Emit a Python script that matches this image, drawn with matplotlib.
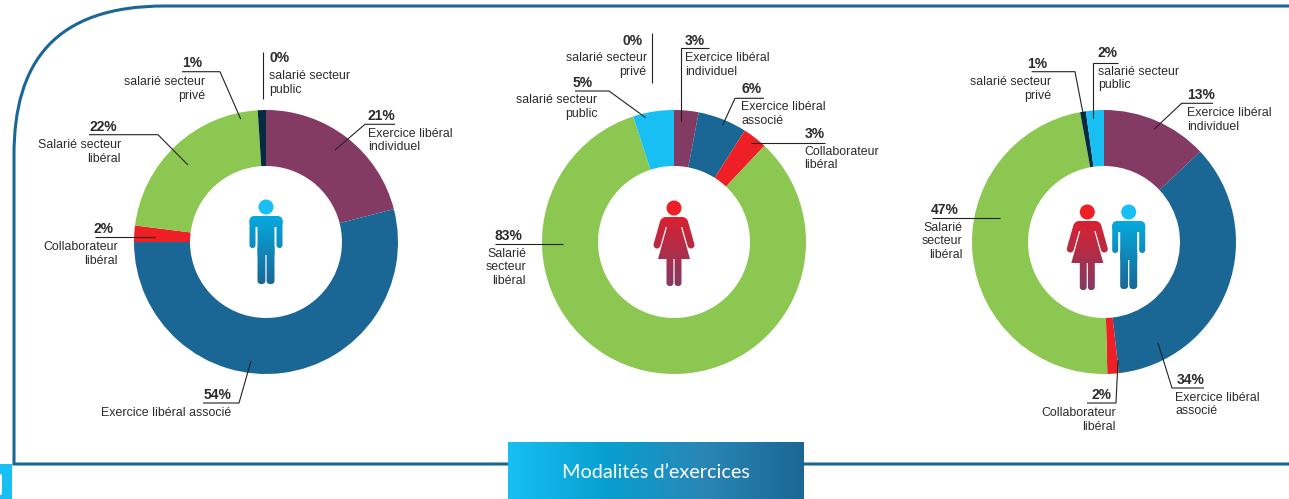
import numpy as np
import matplotlib
matplotlib.use("Agg")
import matplotlib.pyplot as plt
from matplotlib.patches import Circle, FancyBboxPatch, Polygon, Rectangle, PathPatch
from matplotlib.path import Path
from matplotlib.colors import LinearSegmentedColormap

plt.rcParams['font.family'] = ['Liberation Sans', 'DejaVu Sans']

# --- data ---
categories = ["Exercice libéral individuel", "Exercice libéral associé", "Collaborateur libéral",
              "Salarié secteur libéral", "salarié secteur privé", "salarié secteur public"]
values_homme = [21, 54, 2, 22, 1, 0]
values_femme = [3, 6, 3, 83, 0, 5]
# arcs (les pourcentages affichés ne somment qu'à 99)
values_tous = [13, 35.2, 1.4, 47.5, 0.7, 2.2]
labels_homme = ["21%", "54%", "2%", "22%", "1%", "0%"]
labels_femme = ["3%", "6%", "3%", "83%", "0%", "5%"]
labels_tous = ["13%", "34%", "2%", "47%", "1%", "2%"]
title = "Modalités d\u2019exercices"

colors = ["#833A63", "#1A6795", "#EE2025", "#8BC751", "#062A42", "#18BFF3"]
FRAME = "#1A6795"
INK = "#2b2b2b"
LINE = "#222222"

fig = plt.figure(figsize=(12.89, 4.99), dpi=100)
ax = fig.add_axes([0, 0, 1, 1])


def donut(cx, values):
    ax.pie(values, colors=colors, center=(cx, 242), radius=132, startangle=-90,
           counterclock=True, frame=True, wedgeprops=dict(width=56, linewidth=0))


def note(pct, desc, bx, by, tx, ty, ha, pts, step=13.5):
    ax.text(bx, by, pct, fontsize=10, fontweight='bold', color=INK, ha=ha, va='center')
    for i, line in enumerate(desc.split("\n")):
        ax.text(tx, ty + i * step, line, fontsize=8.9, color=INK, ha=ha, va='center')
    ax.plot([p[0] for p in pts], [p[1] for p in pts], color=LINE, lw=0.8,
            solid_joinstyle='miter', solid_capstyle='butt')


def gradient(parts, top, bottom, y0, y1):
    cmap = LinearSegmentedColormap.from_list("g", [top, bottom])
    grad = np.linspace(0, 1, 128).reshape(-1, 1)
    for p in parts:
        p.set(facecolor='none', edgecolor='none', linewidth=0)
        ax.add_patch(p)
        im = ax.imshow(grad, cmap=cmap, extent=(0, 1289, y1, y0), aspect='auto', zorder=3)
        im.set_clip_path(p)


def rrect(x0, y0, x1, y1, r):
    return FancyBboxPatch((x0, y0), x1 - x0, y1 - y0, boxstyle=f"round,pad=0,rounding_size={r}")


def capsule(x0, y0, x1, y1, w):
    ang = np.arctan2(y1 - y0, x1 - x0)
    t = np.linspace(np.pi / 2, 3 * np.pi / 2, 12)
    a = np.column_stack([x0 + w / 2 * np.cos(ang + t), y0 + w / 2 * np.sin(ang + t)])
    b = np.column_stack([x1 + w / 2 * np.cos(ang + t + np.pi), y1 + w / 2 * np.sin(ang + t + np.pi)])
    return Polygon(np.vstack([a, b]), closed=True)


def man(cx, top):
    ax.add_patch(Circle((cx, top + 7), 7.5, color="#18BFF3", lw=0, zorder=3))
    parts = [rrect(cx - 16.5, top + 16, cx + 16.5, top + 27, 5),
             rrect(cx - 16.5, top + 18, cx - 10.5, top + 48, 3),
             rrect(cx + 10.5, top + 18, cx + 16.5, top + 48, 3),
             rrect(cx - 8.5, top + 18, cx + 8.5, top + 55, 1),
             rrect(cx - 8.5, top + 45, cx - 0.6, top + 84, 3.5),
             rrect(cx + 0.6, top + 45, cx + 8.5, top + 84, 3.5)]
    gradient(parts, "#05A9DF", "#1A6795", top + 16, top + 84)


def woman(cx, top):
    ax.add_patch(Circle((cx, top + 7), 7.5, color="#EE2025", lw=0, zorder=3))
    dress = Polygon([(cx - 9, top + 18), (cx + 9, top + 18), (cx + 7, top + 26),
                     (cx + 16, top + 58), (cx - 16, top + 58), (cx - 7, top + 26)],
                    closed=True)
    parts = [rrect(cx - 13, top + 16, cx + 13, top + 26, 5),
             dress,
             capsule(cx - 10.5, top + 21, cx - 17, top + 44, 7),
             capsule(cx + 10.5, top + 21, cx + 17, top + 44, 7),
             rrect(cx - 7.5, top + 50, cx - 0.6, top + 85, 3),
             rrect(cx + 0.6, top + 50, cx + 7.5, top + 85, 3)]
    gradient(parts, "#DA2130", "#833A63", top + 16, top + 85)


# --- cadre ---
frame_path = Path([(1289, 6), (165, 6), (54, 6), (14, 63), (14, 155), (14, 464), (1289, 464)],
                  [Path.MOVETO, Path.LINETO, Path.CURVE4, Path.CURVE4, Path.CURVE4, Path.LINETO, Path.LINETO])
ax.add_patch(PathPatch(frame_path, fill=False, edgecolor=FRAME, lw=2.2, joinstyle='miter'))

# --- donuts ---
donut(266, values_homme)
donut(674, values_femme)
donut(1104, values_tous)

man(266, 200)
woman(674, 201)
woman(1087.3, 205)
man(1128.7, 205)

# --- homme ---
note(labels_homme[0], "Exercice libéral\nindividuel", 368, 116, 368, 134, 'left',
     [(395, 124.3), (365, 124.3), (335, 150)])
note(labels_homme[1], "Exercice libéral associé", 231, 395, 231, 413, 'right',
     [(203, 403), (239, 403), (251, 361)])
note(labels_homme[2], "Collaborateur\nlibéral", 113.5, 229, 118, 247, 'right',
     [(94.7, 237.3), (155, 237.3)])
note(labels_homme[3], "Salarié secteur\nlibéral", 117.5, 127, 121, 145, 'right',
     [(89, 134.7), (158, 134.7), (188, 165)])
note(labels_homme[4], "salarié secteur\nprivé", 202, 63, 205.5, 82, 'right',
     [(182, 71.7), (220, 71.7), (240.7, 119)])
note(labels_homme[5], "salarié secteur\npublic", 269, 58, 269, 76, 'left',
     [(263, 52), (263, 99)])

# --- femme ---
note(labels_femme[0], "Exercice libéral\nindividuel", 685, 40.7, 685, 58, 'left',
     [(709, 48.3), (681, 48.3), (681, 120.7)])
note(labels_femme[1], "Exercice libéral\nassocié", 741, 89, 741, 107, 'left',
     [(764, 98.3), (735, 98.3), (722.7, 125)])
note(labels_femme[2], "Collaborateur\nlibéral", 804.5, 134, 804.5, 152, 'left',
     [(825, 142.7), (751, 142.7)])
note(labels_femme[3], "Salarié\nsecteur\nlibéral", 522, 236, 526, 254, 'right',
     [(495, 244), (563, 244)])
note(labels_femme[4], "salarié secteur\nprivé", 643, 40.7, 646.7, 58, 'right',
     [(652, 33), (652, 83)])
note(labels_femme[5], "salarié secteur\npublic", 593, 82.7, 597.3, 100, 'right',
     [(575, 91), (609, 91), (645.7, 117.7)])

# --- ensemble ---
note(labels_tous[0], "Exercice libéral\nindividuel", 1187, 95, 1187, 113, 'left',
     [(1213, 103.3), (1181.7, 103.3), (1154, 129.3)])
note(labels_tous[1], "Exercice libéral\nassocié", 1177, 380, 1175, 398, 'left',
     [(1204, 388), (1172, 388), (1158, 343)])
note(labels_tous[2], "Collaborateur\nlibéral", 1112, 395, 1116, 413, 'right',
     [(1087, 403), (1116, 403), (1118, 360)])
note(labels_tous[3], "Salarié\nsecteur\nlibéral", 959, 210, 962.7, 228, 'right',
     [(931.7, 218.3), (1000, 218.3)])
note(labels_tous[4], "salarié secteur\nprivé", 1047, 64, 1051, 82, 'right',
     [(1031.7, 71.7), (1075, 71.7), (1082.7, 111.7)])
note(labels_tous[5], "salarié secteur\npublic", 1098, 53, 1098, 71.7, 'left',
     [(1118, 63.3), (1092.7, 63.3), (1092.7, 118)])

# --- bandeau titre ---
band = LinearSegmentedColormap.from_list("band", ["#18BFF3", "#079FD0", "#2A86B5", "#1A6795"])
ax.imshow(np.linspace(0, 1, 256).reshape(1, -1), cmap=band, extent=(508, 804, 499, 442),
          aspect='auto', zorder=4)
ax.text(656, 473, title, color="white", fontsize=14.3, family='Lato', ha='center', va='center', zorder=5)

# --- numéro de page coupé ---
ax.add_patch(Rectangle((0, 464), 12, 35, color="#18BFF3", lw=0))
ax.add_patch(FancyBboxPatch((-6, 474), 8, 21, boxstyle="round,pad=0,rounding_size=2", color="white", lw=0))

ax.set_xlim(0, 1289)
ax.set_ylim(499, 0)
ax.axis('off')

fig.savefig("out.png", dpi=100)
